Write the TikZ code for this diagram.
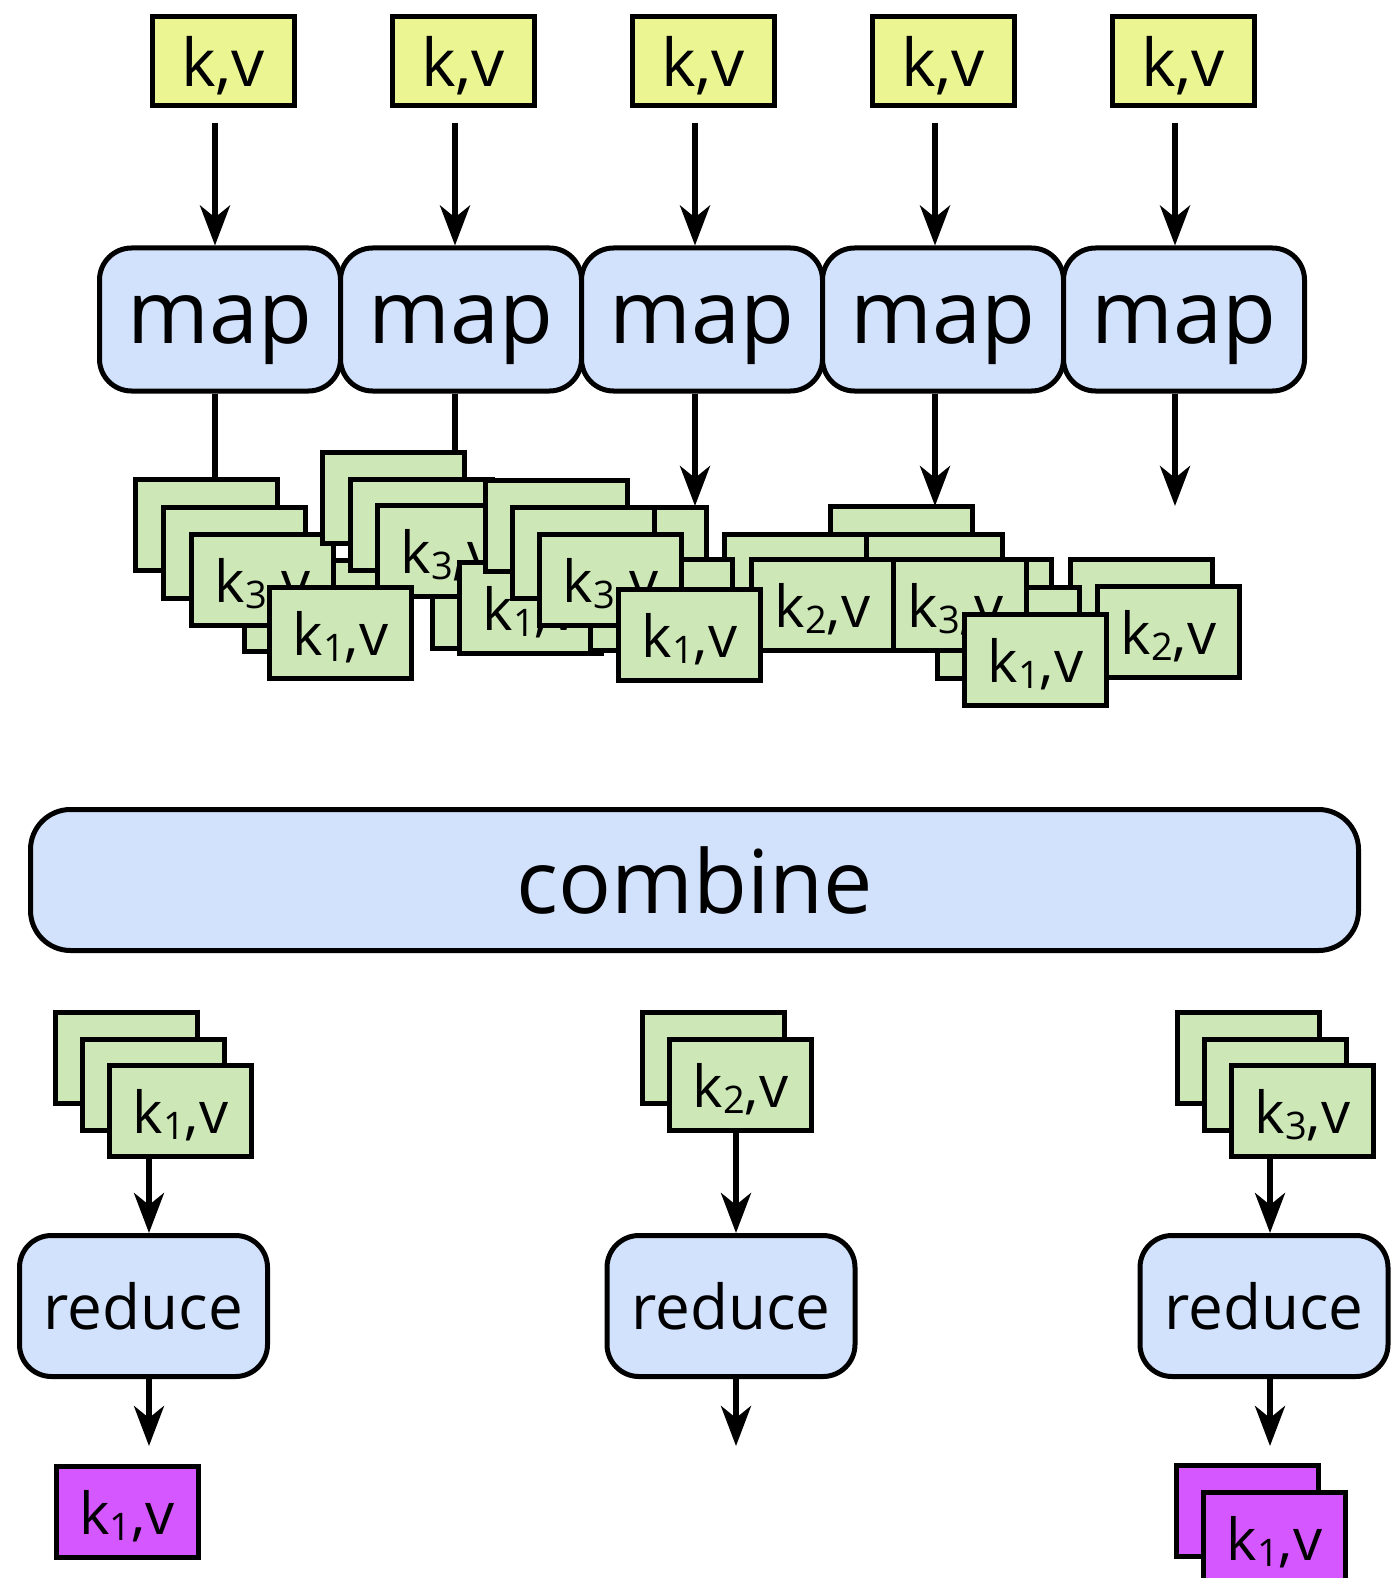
\documentclass[tikz,border=0pt]{standalone}
\usepackage{fontspec}
\setmainfont{Open Sans}
\usetikzlibrary{arrows.meta}
\definecolor{kvyellow}{RGB}{235,245,145}
\definecolor{kvgreen}{RGB}{205,231,183}
\definecolor{kvpurple}{RGB}{213,87,255}
\definecolor{taskblue}{RGB}{211,226,252}
\newcommand{\ksub}[1]{k\raisebox{-6pt}{\fontsize{38}{38}\selectfont #1},v}

\begin{document}
\begin{tikzpicture}[x=1pt, y=-1pt,
    kvbox/.style={draw, line width=5pt, minimum width=142pt, minimum height=91pt,
        inner sep=0pt, text depth=0pt, font=\fontsize{58}{58}\selectfont},
    inbox/.style={kvbox, fill=kvyellow, minimum height=89pt, font=\fontsize{66}{66}\selectfont},
    pairbox/.style={kvbox, fill=kvgreen},
    outbox/.style={kvbox, fill=kvpurple},
    taskbox/.style={draw, line width=5pt, fill=taskblue, rounded corners=32pt,
        inner sep=0pt, text depth=0pt},
    mapbox/.style={taskbox, minimum width=241pt, minimum height=143pt,
        font=\fontsize{88}{88}\selectfont},
    reducebox/.style={taskbox, minimum width=248pt, minimum height=141pt,
        font=\fontsize{62}{62}\selectfont},
    arr/.style={-{Stealth[length=40pt, width=30pt, inset=12pt]}, line width=5.5pt}]
    \useasboundingbox (0,0) rectangle (1392,1578);

    \foreach \i in {1,...,5}
        \node[inbox] (kv\i) at (223+240*\i-240, 61) {k,v};
    \foreach \i in {1,...,5}
        \node[mapbox] (map\i) at (220+241*\i-241, 319.5) {map};

    \foreach \i/\ty in {1/520, 2/520, 3/506, 4/506, 5/506} {
        \coordinate (mo\i) at (215+240*\i-240, \ty);
        \draw[arr, shorten <=15pt] (kv\i.south -| mo\i) -- (map\i.north -| mo\i);
        \draw[arr] (map\i.south -| mo\i) -- (mo\i);
    }

    \foreach \x/\y/\t [count=\n] in {133/477/{}, 161/505/{}, 242/558/{}, 189/532/\ksub{3},
            320/450/{}, 348/477/{}, 430/555/{}, 375/503/\ksub{3}, 457/560/\ksub{1},
            483/478/{}, 562/505/{}, 510/505/{}, 828/504/{}, 858/532/{}, 722/532/{},
            588/557/{}, 537/532/\ksub{3}, 267/585/\ksub{1},
            907/557/{}, 1068/557/{}, 1095/584/\ksub{2}, 935/585/{}, 882/557/\ksub{3},
            749/557/\ksub{2}, 616/587/\ksub{1}, 962/612/\ksub{1}}
        \node[pairbox] (pair\n) at (\x+73.5, \y+48) {\t};

    \node[taskbox, minimum width=1328pt, minimum height=141pt, rounded corners=40pt,
        font=\fontsize{88}{88}\selectfont] (combine) at (694.5, 880) {combine};

    \node[pairbox] (r1a) at (126.5, 1058) {};
    \node[pairbox] (r1b) at (153.5, 1085) {};
    \node[pairbox] (r1c) at (180.5, 1111) {\ksub{1}};
    \node[pairbox] (r2a) at (713.5, 1058) {};
    \node[pairbox] (r2b) at (740.5, 1085) {\ksub{2}};
    \node[pairbox] (r3a) at (1248.5, 1058) {};
    \node[pairbox] (r3b) at (1275.5, 1085) {};
    \node[pairbox] (r3c) at (1302.5, 1111) {\ksub{3}};

    \node[reducebox] (red1) at (143.5, 1306) {reduce};
    \node[reducebox] (red2) at (731, 1306) {reduce};
    \node[reducebox] (red3) at (1264, 1306) {reduce};

    \node[outbox] (res1) at (127, 1512) {\ksub{1}};
    \node[outbox] (res3a) at (1247.5, 1511) {};
    \node[outbox] (res3b) at (1274.5, 1538) {\ksub{1}};

    \coordinate (ro1) at (149, 1446);
    \coordinate (ro2) at (736, 1446);
    \coordinate (ro3) at (1270, 1446);
    \draw[arr] (r1c.south -| ro1) -- (red1.north -| ro1);
    \draw[arr] (r2b.south -| ro2) -- (red2.north -| ro2);
    \draw[arr] (r3c.south -| ro3) -- (red3.north -| ro3);
    \foreach \i in {1,2,3}
        \draw[arr] (red\i.south -| ro\i) -- (ro\i);
\end{tikzpicture}
\end{document}
